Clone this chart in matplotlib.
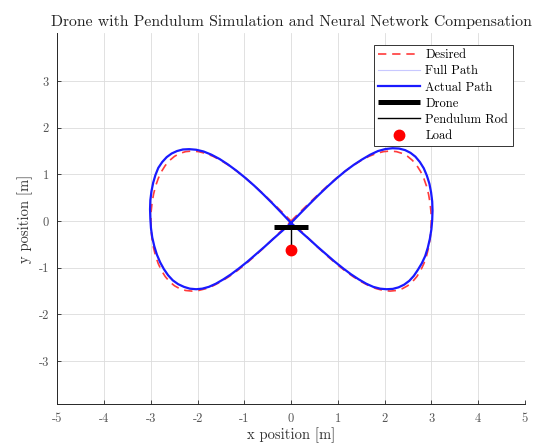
import matplotlib
matplotlib.use("Agg")
import matplotlib.pyplot as plt

plt.rcParams['font.family'] = ['cmr10', 'DejaVu Serif']
plt.rcParams['mathtext.fontset'] = 'cm'
plt.rcParams['axes.unicode_minus'] = False

# Desired trajectory (figure-eight)
desired_x = [0.0, 0.196, 0.392, 0.585, 0.776, 0.964, 1.148, 1.327, 1.5, 1.667, 1.826, 1.978, 2.121,
             2.256, 2.380, 2.494, 2.598, 2.691, 2.772, 2.841, 2.898, 2.942, 2.974, 2.994, 3.0,
             2.994, 2.974, 2.942, 2.898, 2.841, 2.772, 2.691, 2.598, 2.494, 2.380, 2.256, 2.121,
             1.978, 1.826, 1.667, 1.5, 1.327, 1.148, 0.964, 0.776, 0.585, 0.392, 0.196, 0.0,
             -0.196, -0.392, -0.585, -0.776, -0.964, -1.148, -1.327, -1.5, -1.667, -1.826, -1.978, -2.121,
             -2.256, -2.380, -2.494, -2.598, -2.691, -2.772, -2.841, -2.898, -2.942, -2.974, -2.994, -3.0,
             -2.994, -2.974, -2.942, -2.898, -2.841, -2.772, -2.691, -2.598, -2.494, -2.380, -2.256, -2.121,
             -1.978, -1.826, -1.667, -1.5, -1.327, -1.148, -0.964, -0.776, -0.585, -0.392, -0.196, 0.0]
desired_y = [0.0, 0.196, 0.388, 0.574, 0.75, 0.913, 1.061, 1.190, 1.299, 1.386, 1.449, 1.487, 1.5,
             1.487, 1.449, 1.386, 1.299, 1.190, 1.061, 0.913, 0.75, 0.574, 0.388, 0.196, 0.0,
             -0.196, -0.388, -0.574, -0.75, -0.913, -1.061, -1.190, -1.299, -1.386, -1.449, -1.487, -1.5,
             -1.487, -1.449, -1.386, -1.299, -1.190, -1.061, -0.913, -0.75, -0.574, -0.388, -0.196, 0.0,
             0.196, 0.388, 0.574, 0.75, 0.913, 1.061, 1.190, 1.299, 1.386, 1.449, 1.487, 1.5,
             1.487, 1.449, 1.386, 1.299, 1.190, 1.061, 0.913, 0.75, 0.574, 0.388, 0.196, 0.0,
             -0.196, -0.388, -0.574, -0.75, -0.913, -1.061, -1.190, -1.299, -1.386, -1.449, -1.487, -1.5,
             -1.487, -1.449, -1.386, -1.299, -1.190, -1.061, -0.913, -0.75, -0.574, -0.388, -0.196, 0.0]

# Actual path of the drone
actual_x = [0.0, 0.195, 0.39, 0.586, 0.78, 0.972, 1.16, 1.343, 1.52, 1.694, 1.86, 2.02, 2.17,
            2.311, 2.44, 2.555, 2.66, 2.756, 2.84, 2.906, 2.96, 2.996, 3.02, 3.027, 3.02,
            3.002, 2.97, 2.926, 2.87, 2.796, 2.71, 2.626, 2.53, 2.42, 2.30, 2.176, 2.04,
            1.905, 1.76, 1.609, 1.45, 1.283, 1.11, 0.932, 0.75, 0.566, 0.38, 0.19, 0.0,
            -0.2, -0.40, -0.596, -0.79, -0.982, -1.17, -1.353, -1.53, -1.704, -1.87, -2.03, -2.18,
            -2.316, -2.44, -2.555, -2.66, -2.756, -2.84, -2.901, -2.95, -2.986, -3.01, -3.017, -3.01,
            -2.997, -2.97, -2.926, -2.87, -2.801, -2.72, -2.631, -2.53, -2.415, -2.29, -2.166, -2.03,
            -1.9, -1.76, -1.609, -1.45, -1.283, -1.11, -0.932, -0.75, -0.566, -0.38, -0.19, 0.0]
actual_y = [-0.04, 0.162, 0.36, 0.555, 0.74, 0.913, 1.07, 1.205, 1.32, 1.422, 1.50, 1.543, 1.56,
            1.553, 1.52, 1.462, 1.38, 1.265, 1.13, 0.973, 0.80, 0.615, 0.42, 0.222, 0.02,
            -0.182, -0.38, -0.57, -0.75, -0.908, -1.05, -1.175, -1.28, -1.362, -1.42, -1.453, -1.46,
            -1.448, -1.41, -1.342, -1.25, -1.14, -1.01, -0.868, -0.71, -0.55, -0.38, -0.212, -0.04,
            0.172, 0.38, 0.575, 0.76, 0.928, 1.08, 1.215, 1.33, 1.422, 1.49, 1.528, 1.54,
            1.533, 1.50, 1.447, 1.37, 1.265, 1.14, 0.988, 0.82, 0.64, 0.45, 0.252, 0.05,
            -0.152, -0.35, -0.54, -0.72, -0.883, -1.03, -1.16, -1.27, -1.352, -1.41, -1.448, -1.46,
            -1.448, -1.41, -1.342, -1.25, -1.14, -1.01, -0.868, -0.71, -0.55, -0.38, -0.212, -0.04]

# Drone / pendulum state
drone_x = [-0.37, 0.37]
drone_y = [-0.12, -0.12]
rod_x = [0.0, 0.0]
rod_y = [-0.12, -0.62]
load_x = [0.0]
load_y = [-0.62]

xticks = [-5, -4, -3, -2, -1, 0, 1, 2, 3, 4, 5]
yticks = [-3, -2, -1, 0, 1, 2, 3]

fig = plt.figure(figsize=(5.36, 4.45), dpi=100)
ax = fig.add_axes([0.107, 0.092, 0.872, 0.834])

ax.plot(desired_x, desired_y, color='#ff3b3b', lw=1.2, ls=(0, (5, 3.5)), label='Desired', zorder=3)
ax.plot(actual_x, actual_y, color='#c8c8ff', lw=0.8, label='Full Path', zorder=2)
ax.plot(actual_x, actual_y, color='#1a1aff', lw=1.6, label='Actual Path', zorder=4)
ax.plot(drone_x, drone_y, color='black', lw=3.6, label='Drone', zorder=5, solid_capstyle='butt')
ax.plot(rod_x, rod_y, color='black', lw=1.0, label='Pendulum Rod', zorder=5)
ax.plot(load_x, load_y, 'o', color='red', ms=7.5, ls='none', label='Load', zorder=6)

ax.set_xlim(-5, 5)
ax.set_ylim(-3.92, 4.03)
ax.set_xticks(xticks)
ax.set_yticks(yticks)
ax.grid(True, color='#dcdcdc', lw=0.6)
ax.set_axisbelow(True)
for s in ['top', 'right']:
    ax.spines[s].set_visible(False)
for s in ['left', 'bottom']:
    ax.spines[s].set_color('#262626')
    ax.spines[s].set_linewidth(0.7)
ax.tick_params(direction='in', length=3, width=0.6, colors='#262626', labelsize=9, pad=6)
for lab in ax.get_xticklabels() + ax.get_yticklabels():
    lab.set_color('#555555')

ax.set_xlabel('x position [m]', fontsize=10.5, color='#333333', labelpad=2)
ax.set_ylabel('y position [m]', fontsize=10.5, color='#333333', labelpad=4)
ax.set_title('Drone with Pendulum Simulation and Neural Network Compensation', fontsize=11.3,
             color='#222222', pad=5)

leg = ax.legend(loc='upper right', fontsize=9, handlelength=3.4, borderpad=0.35, labelspacing=0.32,
                handletextpad=0.4, fancybox=False, framealpha=1, edgecolor='#333333',
                bbox_to_anchor=(0.974, 0.968), borderaxespad=0)
leg.get_frame().set_linewidth(0.7)

fig.savefig('out.png', dpi=100)
